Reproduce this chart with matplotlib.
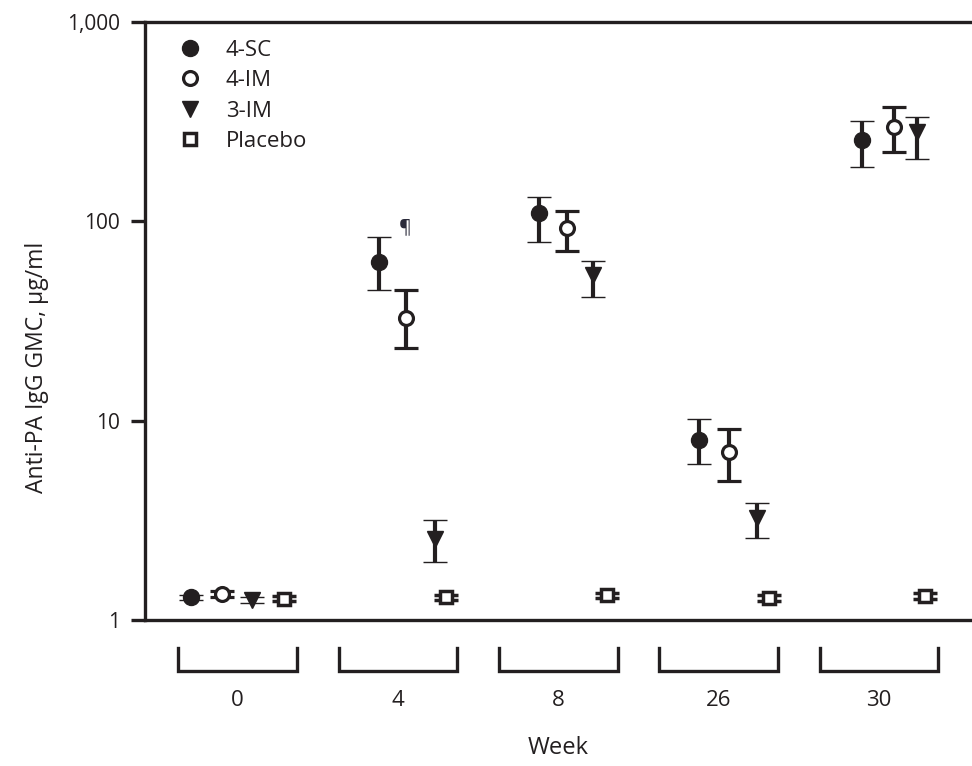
import matplotlib
matplotlib.use('Agg')
import matplotlib.pyplot as plt
import matplotlib.transforms as mtransforms
from matplotlib.lines import Line2D
from matplotlib.ticker import FixedLocator, FixedFormatter, NullLocator
import numpy as np

plt.rcParams['font.family'] = ['Open Sans', 'DejaVu Sans']

# ---------------- data ----------------
weeks = ['0', '4', '8', '26', '30']
series_names = ['4-SC', '4-IM', '3-IM', 'Placebo']

gmc_4sc = [1.30, 62.5, 110.0, 8.0, 256.0]
lo_4sc = [1.26, 45.3, 78.8, 6.06, 188.0]
hi_4sc = [1.34, 83.5, 132.0, 10.2, 319.0]

gmc_4im = [1.35, 32.7, 92.7, 6.97, 298.0]
lo_4im = [1.31, 23.2, 71.0, 4.98, 223.0]
hi_4im = [1.39, 45.0, 113.0, 9.09, 375.0]

gmc_3im = [1.26, 2.55, 53.8, 3.25, 281.0]
lo_3im = [1.21, 1.95, 41.8, 2.58, 206.0]
hi_3im = [1.30, 3.18, 63.3, 3.87, 334.0]

gmc_pla = [1.28, 1.30, 1.33, 1.29, 1.32]
lo_pla = [1.24, 1.26, 1.29, 1.25, 1.28]
hi_pla = [1.32, 1.34, 1.37, 1.33, 1.36]

# within-group horizontal offsets (group units)
off_4sc = [-0.293, -0.115, -0.122, -0.125, -0.106]
off_4im = [-0.094, 0.053, 0.053, 0.062, 0.095]
off_3im = [0.087, 0.228, 0.215, 0.237, 0.237]
off_pla = [0.287, 0.300, 0.302, 0.315, 0.287]

ink = '#231f20'

fig = plt.figure(figsize=(9.72, 7.66), dpi=100)
ax = fig.add_axes([145 / 972, 146 / 766, 827 / 972, 598 / 766])
ax.set_yscale('log')
ax.set_ylim(1, 1000)
ax.set_xlim(-0.577, 4.579)

groups = np.arange(len(weeks))

def draw(gmc, lo, hi, off, marker, ms, mfc, mew):
    g = np.array(gmc); l = np.array(lo); h = np.array(hi)
    x = groups + np.array(off)
    ax.errorbar(x, g, yerr=[g - l, h - g], fmt=marker, ms=ms, mfc=mfc, mec=ink,
                mew=mew, ecolor=ink, elinewidth=3.0, capsize=8.5, capthick=3.0,
                color=ink, zorder=3)

draw(gmc_4sc, lo_4sc, hi_4sc, off_4sc, 'o', 11.5, ink, 1)
draw(gmc_4im, lo_4im, hi_4im, off_4im, 'o', 10, 'white', 2.3)
draw(gmc_3im, lo_3im, hi_3im, off_3im, 'v', 11.5, ink, 1)
draw(gmc_pla, lo_pla, hi_pla, off_pla, 's', 8, 'white', 2.5)

# spines
for s in ['left', 'top', 'bottom']:
    ax.spines[s].set_linewidth(2.4)
    ax.spines[s].set_color(ink)
ax.spines['right'].set_visible(False)

ax.yaxis.set_major_locator(FixedLocator([1, 10, 100, 1000]))
ax.yaxis.set_major_formatter(FixedFormatter(['1', '10', '100', '1,000']))
ax.yaxis.set_minor_locator(NullLocator())
ax.tick_params(axis='y', which='major', length=10, width=2.4, color=ink,
               labelsize=15, labelcolor=ink, pad=8)
ax.tick_params(axis='x', which='both', bottom=False, labelbottom=False)

# brackets under the x axis
trans = mtransforms.blended_transform_factory(ax.transData, ax.transAxes)
half = 0.37
for i, w in enumerate(weeks):
    ax.plot([i - half, i - half, i + half, i + half], [-0.047, -0.085, -0.085, -0.047],
            transform=trans, clip_on=False, color=ink, lw=2.4, solid_joinstyle='miter')
    ax.text(i, -0.134, w, transform=trans, ha='center', va='center', fontsize=16, color=ink)
ax.text(0.5, -0.214, 'Week', transform=ax.transAxes, ha='center', va='center',
        fontsize=17, color=ink)

fig.text(37 / 972, 1 - 367 / 766, 'Anti-PA IgG GMC, μg/ml', rotation=90,
         ha='center', va='center', fontsize=16.5, color=ink)

# footnote mark
ax.text(1.044, 93.7, '¶', ha='center', va='center', fontsize=14, color='#2a2a3a')

# legend
handles = [
    Line2D([], [], ls='none', marker='o', ms=11.5, mfc=ink, mec=ink, color=ink),
    Line2D([], [], ls='none', marker='o', ms=10, mfc='white', mec=ink, mew=2.3),
    Line2D([], [], ls='none', marker='v', ms=11.5, mfc=ink, mec=ink),
    Line2D([], [], ls='none', marker='s', ms=8, mfc='white', mec=ink, mew=2.5),
]
leg = ax.legend(handles, series_names, loc='upper left', bbox_to_anchor=(0.028, 0.985),
                frameon=False, fontsize=16, labelspacing=0.42, handletextpad=1.0,
                handlelength=1.2, borderaxespad=0)
for t in leg.get_texts():
    t.set_color(ink)

fig.savefig('out.png', dpi=100)
